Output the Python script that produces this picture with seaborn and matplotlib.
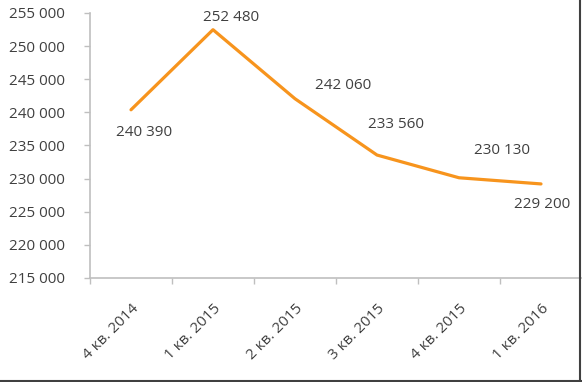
import numpy as np
import pandas as pd
import matplotlib.pyplot as plt
from matplotlib.lines import Line2D
from matplotlib.transforms import ScaledTranslation
import seaborn as sns

# data
quarters = ["4 кв. 2014", "1 кв. 2015", "2 кв. 2015", "3 кв. 2015", "4 кв. 2015", "1 кв. 2016"]
values = [240390, 252480, 242060, 233560, 230130, 229200]
label_dx = [13, 18, 48, 19, 43, 1]      # label offsets in pixels
label_dy = [-23, 12, 13, 31, 27, -21]

df = pd.DataFrame({"quarter": quarters, "value": values})

sns.set_style("white")
plt.rcParams["font.family"] = ["Open Sans", "DejaVu Sans"]
text_col = "#404040"
axis_col = "#bfbfbf"
fs = 11

fig = plt.figure(figsize=(5.82, 3.82), dpi=100)
ax = fig.add_axes([90 / 582, 1 - 278 / 382, 492 / 582, 265 / 382])

sns.lineplot(data=df, x="quarter", y="value", ax=ax, color="#F7941D",
             linewidth=2.3, sort=False)

# data labels
for i, v in enumerate(values):
    ax.annotate(f"{v:,}".replace(",", " "), (i, v),
                xytext=(label_dx[i], label_dy[i]), textcoords="offset pixels",
                ha="center", va="center", fontsize=fs, color=text_col)

ax.set_ylim(215000, 255000)
ax.set_xlim(-0.5, 5.5)
ax.set_yticks(np.arange(215000, 255001, 5000))
ax.set_yticklabels([f"{t:,}".replace(",", " ") for t in range(215000, 255001, 5000)])

# ticks at category boundaries, labels at category centres
ax.set_xticks(np.arange(-0.5, 5.0, 1.0))
ax.set_xticklabels([])
ax.set_xticks(np.arange(6), minor=True)
ax.set_xticklabels(quarters, minor=True, rotation=45, ha="right",
                   rotation_mode="anchor", fontsize=fs, color=text_col)
shift = ScaledTranslation(-3 / 100, 0, fig.dpi_scale_trans)
for lab in ax.get_xticklabels(minor=True):
    lab.set_transform(lab.get_transform() + shift)
ax.tick_params(axis="x", which="minor", length=0, pad=17)
ax.tick_params(axis="x", which="major", length=4, width=1, color=axis_col, direction="out")
ax.tick_params(axis="y", length=4, width=1, color=axis_col, direction="out",
               labelsize=fs, labelcolor=text_col, pad=14)
ax.tick_params(bottom=True, left=True)

ax.set_xlabel("")
ax.set_ylabel("")
for s in ["top", "right"]:
    ax.spines[s].set_visible(False)
for s in ["left", "bottom"]:
    ax.spines[s].set_color(axis_col)
    ax.spines[s].set_linewidth(1.2)

# dark frame at the right and bottom edges of the picture
fig.add_artist(Line2D([0, 1], [1 / 382, 1 / 382], color="#404040", linewidth=1.5))
fig.add_artist(Line2D([580 / 582, 580 / 582], [0, 1], color="#404040", linewidth=1.5))

fig.savefig("out.png", dpi=100)
